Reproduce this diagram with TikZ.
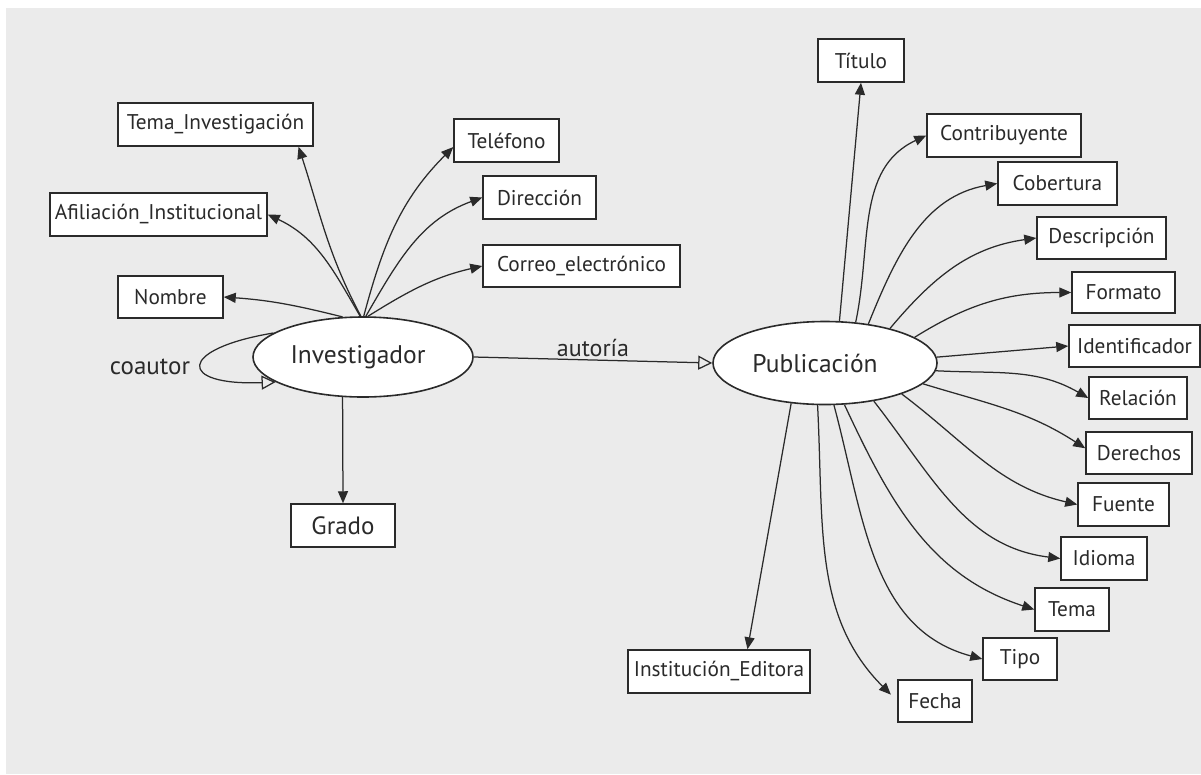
\documentclass[tikz,border=0pt]{standalone}
\usepackage{fontspec}
\setmainfont{PT Sans}
\usetikzlibrary{arrows.meta,shapes.geometric}
\definecolor{bg}{HTML}{EBEBEB}
\definecolor{ink}{HTML}{2A2A2A}
\begin{document}
\begin{tikzpicture}[x=1pt,y=1pt,
  attr/.style={draw=ink, line width=1.5pt, fill=white, rectangle, inner sep=0pt,
    minimum height=43pt, text=ink, font=\fontsize{21.3}{25}\selectfont},
  entity/.style={draw=ink, line width=1.6pt, fill=white, ellipse, inner sep=0pt,
    text=ink, font=\fontsize{25.5}{30}\selectfont},
  rel/.style={draw=ink, line width=1.25pt, -{Triangle[length=12pt,width=10pt]}},
  assoc/.style={draw=ink, line width=1.25pt, -{Triangle[open,length=14pt,width=14pt]}},
  lbl/.style={text=ink, font=\fontsize{25}{30}\selectfont}]

% canvas and grey panel
\useasboundingbox (0,0) rectangle (1201,-774);
\fill[white] (0,0) rectangle (1201,-774);
\fill[bg] (6,-8) rectangle (1201,-774);

% entities
\node[entity, minimum width=220pt, minimum height=80pt] (I) at (363,-357) {Investigador\hspace*{10pt}};
\node[entity, minimum width=224pt, minimum height=83pt] (P) at (825,-363) {Publicación\hspace*{20pt}};

% attributes of Investigador
\node[attr, minimum width=195pt] (TI) at (215.5,-124.5) {Tema\_Investigación};
\node[attr, minimum width=217pt] (AI) at (158.5,-214.5) {Afiliación\_Institucional};
\node[attr, minimum width=105pt, minimum height=42pt] (NO) at (170.5,-297) {Nombre};
\node[attr, minimum width=105pt] (TE) at (506.5,-140.5) {Teléfono};
\node[attr, minimum width=113pt] (DI) at (539.5,-197.5) {Dirección};
\node[attr, minimum width=197pt, minimum height=42pt] (CO) at (581.5,-266) {Correo\_electrónico};
\node[attr, minimum width=104pt, font=\fontsize{25}{30}\selectfont] (GR) at (343,-525.5) {Grado};

% attributes of Publicación
\node[attr, minimum width=86pt] (Ti) at (861,-60.5) {Título};
\node[attr, minimum width=154pt] (Cn) at (1004,-135.5) {Contribuyente};
\node[attr, minimum width=119pt] (Cb) at (1057.5,-183.5) {Cobertura};
\node[attr, minimum width=129pt, minimum height=42pt] (De) at (1101.5,-238) {Descripción};
\node[attr, minimum width=103pt, minimum height=41pt] (Fo) at (1123.5,-292.5) {Formato};
\node[attr, minimum width=131pt, minimum height=42pt] (Id) at (1134.5,-346) {Identificador};
\node[attr, minimum width=98pt, minimum height=42pt] (Re) at (1138,-398) {Relación};
\node[attr, minimum width=106pt, minimum height=42pt] (Dr) at (1139,-453) {Derechos};
\node[attr, minimum width=91pt] (Fu) at (1123.5,-504.5) {Fuente};
\node[attr, minimum width=86pt] (Io) at (1104,-558.5) {Idioma};
\node[attr, minimum width=74pt] (Tm) at (1072,-609.5) {Tema};
\node[attr, minimum width=74pt, minimum height=42pt] (Tp) at (1020,-659) {Tipo};
\node[attr, minimum width=74pt, minimum height=42pt] (Fe) at (935,-701) {Fecha};
\node[attr, minimum width=182pt] (IE) at (719,-671.5) {Institución\_Editora};

% Investigador -> attributes
\draw[rel] (I.117) to[out=166, in=-4] (NO.east);
\draw[rel] (I.94) to[out=120, in=-25] (AI.east);
\draw[rel] (I.93) to[out=118, in=-72] (TI.-15);
\draw[rel] (I.89) to[out=75, in=-135] (TE.187);
\draw[rel] (I.86) to[out=60, in=-160] (DI.west);
\draw[rel] (I.83) to[out=32, in=-167] (CO.west);
\draw[rel] (I.-117) -- (GR.north);

% coautor self relation
\draw[assoc] (I.165) .. controls (177,-349) and (177,-386) .. (I.196);
\node[lbl] (coa) at (150,-367) {coautor};

% autoría
\draw[assoc] (I.east) -- node[lbl, above=-1pt, font=\fontsize{24}{28}\selectfont] (aut) {autoría} (P.west);

% Publicación -> attributes
\draw[rel] (P.71) -- (Ti.south);
\draw[rel] (P.53) to[out=78, in=-155] (Cn.west);
\draw[rel] (P.42) to[out=68, in=-170] (Cb.west);
\draw[rel] (P.28) to[out=50, in=-172] (De.west);
\draw[rel] (P.16) to[out=32, in=180] (Fo.west);
\draw[rel] (P.3) -- (Id.west);
\draw[rel] (P.-4) to[out=-3, in=150] (Re.west);
\draw[rel] (P.-12) to[out=-17, in=147] (Dr.175);
\draw[rel] (P.-22) to[out=-37, in=167] (Fu.west);
\draw[rel] (P.-38) to[out=-52, in=173] (Io.west);
\draw[rel] (P.-65) to[out=-65, in=162] (Tm.west);
\draw[rel] (P.-78) to[out=-75, in=165] (Tp.west);
\draw[rel, shorten >=9pt] (P.-100) to[out=-87, in=135] (Fe.west);
\draw[rel] (P.-130) -- (IE.38.5);
\end{tikzpicture}
\end{document}
